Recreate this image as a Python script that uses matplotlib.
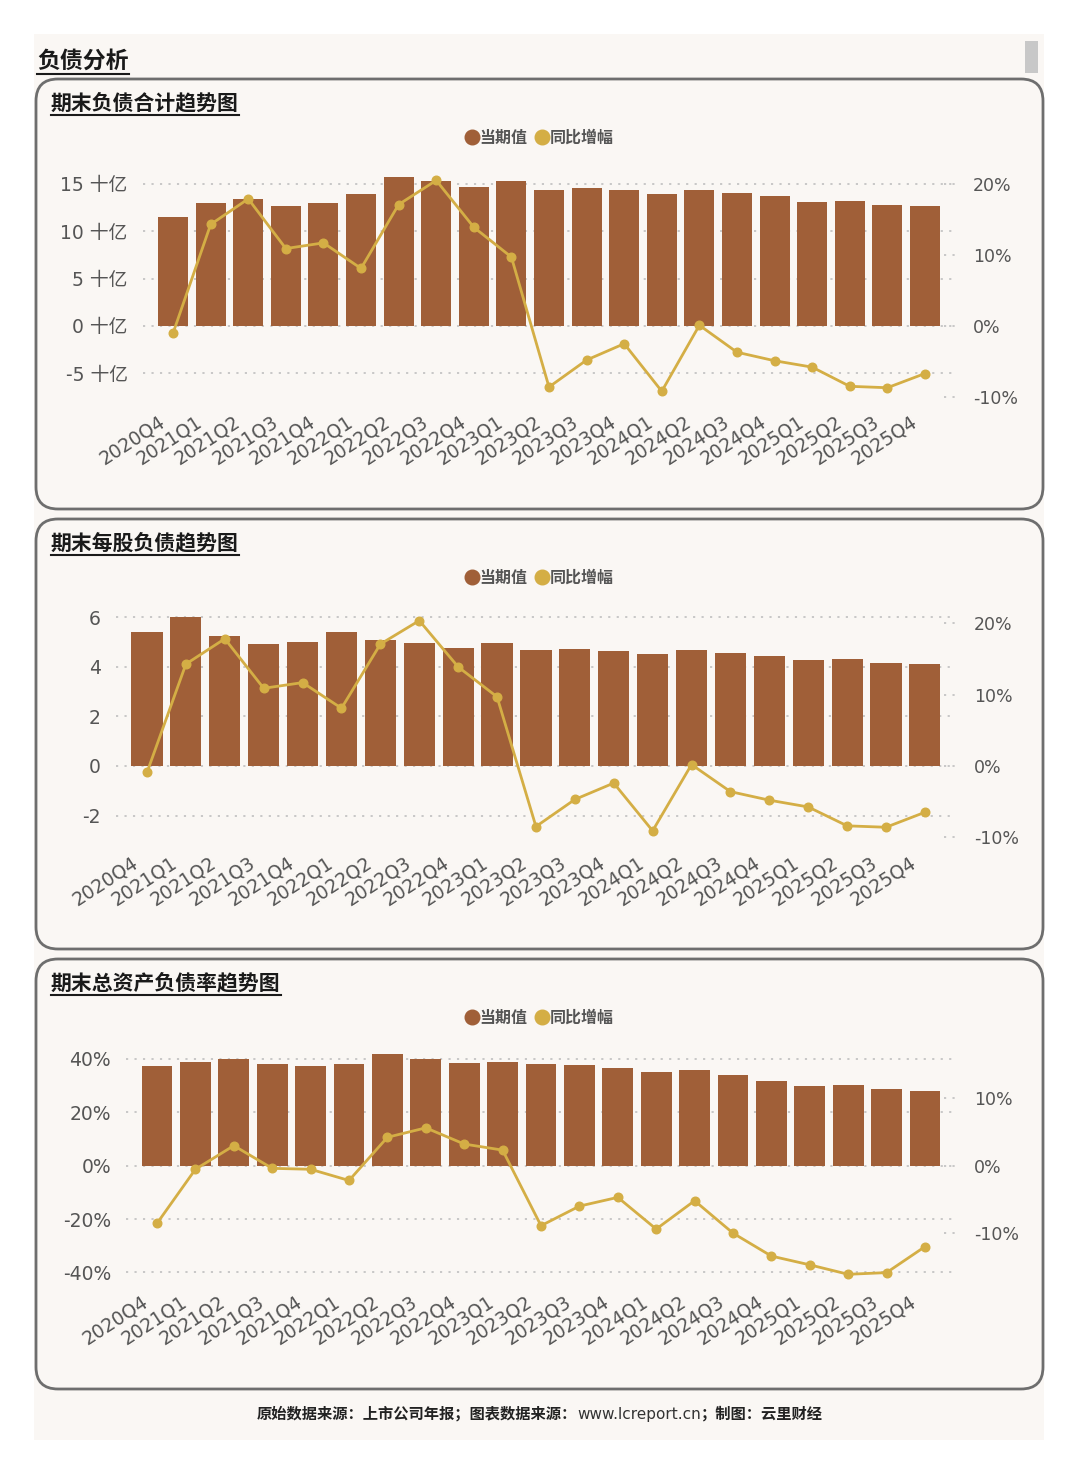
import matplotlib
matplotlib.use('Agg')
import matplotlib.pyplot as plt
from matplotlib.patches import FancyBboxPatch, Rectangle
from matplotlib.lines import Line2D
from matplotlib.transforms import IdentityTransform

W, H = 1080, 1476

quarters = ['2020Q4', '2021Q1', '2021Q2', '2021Q3', '2021Q4', '2022Q1', '2022Q2',
            '2022Q3', '2022Q4', '2023Q1', '2023Q2', '2023Q3', '2023Q4', '2024Q1',
            '2024Q2', '2024Q3', '2024Q4', '2025Q1', '2025Q2', '2025Q3', '2025Q4']

# 期末负债合计 (十亿) and YoY (%)
liab_total = [11.54, 12.95, 13.45, 12.71, 12.95, 13.98, 15.74, 15.28, 14.72, 15.28, 14.40,
              14.54, 14.33, 13.91, 14.40, 14.05, 13.70, 13.06, 13.24, 12.81, 12.71]
liab_total_yoy = [-1.0, 14.3, 17.9, 10.9, 11.7, 8.1, 17.1, 20.5, 13.9, 9.7, -8.6,
                  -4.8, -2.5, -9.2, 0.1, -3.7, -4.9, -5.8, -8.5, -8.7, -6.7]
# 期末每股负债 and YoY (%)
liab_per_share = [5.39, 6.01, 5.23, 4.92, 5.00, 5.42, 5.09, 4.95, 4.75, 4.95, 4.67,
                  4.72, 4.64, 4.51, 4.67, 4.56, 4.44, 4.28, 4.31, 4.17, 4.13]
liab_per_share_yoy = [-0.9, 14.3, 17.85, 10.9, 11.7, 8.1, 17.1, 20.4, 13.9, 9.7, -8.5,
                      -4.7, -2.4, -9.1, 0.2, -3.6, -4.8, -5.75, -8.4, -8.6, -6.5]
# 期末总资产负债率 (%) and YoY (%)
debt_ratio = [37.5, 38.9, 40.1, 38.1, 37.2, 38.1, 41.8, 40.1, 38.6, 38.9, 38.1,
              37.9, 36.7, 35.2, 36.0, 33.9, 31.7, 30.0, 30.2, 28.7, 28.1]
debt_ratio_yoy = [-8.55, -0.54, 2.96, -0.40, -0.54, -2.2, 4.2, 5.6, 3.2, 2.3, -8.9,
                  -6.0, -4.7, -9.4, -5.2, -10.0, -13.4, -14.7, -16.1, -15.85, -12.0]

section_title = '负债分析'
panel_titles = ['期末负债合计趋势图', '期末每股负债趋势图', '期末总资产负债率趋势图']
legend_labels = ['当期值', '同比增幅']
left_ticks = [[-5, 0, 5, 10, 15], [-2, 0, 2, 4, 6], [-40, -20, 0, 20, 40]]
left_fmt = ['{} 十亿', '{}', '{}%']
right_ticks = [[-10, 0, 10, 20], [-10, 0, 10, 20], [-10, 0, 10]]
footer_parts = ['原始数据来源：上市公司年报；图表数据来源：', 'www.lcreport.cn', '；制图：云里财经']

BAR = '#A05F38'
LINE = '#D4AE45'
BG = '#FAF7F4'
BORDER = '#6E6E6E'
TXT = '#555555'
GRID = '#C4C4C4'
CJK = ['Noto Sans CJK SC', 'DejaVu Sans']
MIX = ['DejaVu Sans', 'Noto Sans CJK SC']

plt.rcParams['font.family'] = MIX

fig = plt.figure(figsize=(W / 100, H / 100), dpi=100)
fig.patch.set_facecolor('white')


def rect_px(x0, y0, x1, y1):
    return [x0 / W, 1 - y1 / H, (x1 - x0) / W, (y1 - y0) / H]


# background
fig.add_artist(Rectangle((34, H - 1440), 1010, 1406, transform=IdentityTransform(),
                         facecolor=BG, edgecolor='none', zorder=0))
# scrollbar-like block
fig.add_artist(Rectangle((1025, H - 73), 13, 32, transform=IdentityTransform(),
                         facecolor='#C8C8C8', edgecolor='none', zorder=1))

panel_boxes = [(36, 79, 1043, 509), (36, 519, 1043, 949), (36, 959, 1043, 1389)]
for (x0, y0, x1, y1) in panel_boxes:
    fig.add_artist(FancyBboxPatch((x0, H - y1), x1 - x0, y1 - y0,
                                  boxstyle='round,pad=0,rounding_size=22',
                                  transform=IdentityTransform(), facecolor=BG,
                                  edgecolor=BORDER, linewidth=2, zorder=1))

titles = []
t = fig.text(37 / W, 1 - 61 / H, section_title, fontsize=16.5, fontweight='bold',
             family=CJK, color='#1a1a1a', va='center', ha='left', zorder=3)
titles.append(t)
for i, (x0, y0, x1, y1) in enumerate(panel_boxes):
    t = fig.text(51 / W, 1 - (y0 + 24) / H, panel_titles[i], fontsize=15, fontweight='bold',
                 family=CJK, color='#1a1a1a', va='center', ha='left', zorder=3)
    titles.append(t)

axes_px = [(143, 174.5, 955, 399.8), (115.9, 612.4, 956, 840.3), (126.3, 1050.9, 955.7, 1279.7)]
ylims = [(-7.8, 16), (-3.0, 6.2), (-42.7, 43)]
ylims2 = [(-10.4, 21.33), (-10.43, 21.55), (-16.9, 17.0)]
bars_data = [liab_total, liab_per_share, debt_ratio]
line_data = [liab_total_yoy, liab_per_share_yoy, debt_ratio_yoy]
legend_y = [138, 578, 1018]
label_offset = 0.4  # category-label anchor offset (in category units)

x = list(range(len(quarters)))
for i in range(3):
    ax = fig.add_axes(rect_px(*axes_px[i]))
    ax.set_zorder(5)
    ax.set_facecolor('none')
    ax.bar(x, bars_data[i], width=0.8, color=BAR, zorder=2)
    ax.set_xlim(-0.8, len(quarters) - 0.2)
    ax.set_ylim(*ylims[i])
    ax.set_yticks(left_ticks[i])
    ax.set_yticklabels([left_fmt[i].format(v) for v in left_ticks[i]])
    ax.set_xticks([xi - label_offset for xi in x])
    ax.set_xticklabels(quarters, rotation=33, ha='right', rotation_mode='anchor')
    ax.tick_params(axis='y', length=0, pad=11, labelsize=13.5, labelcolor=TXT)
    ax.tick_params(axis='x', length=0, pad=9, labelsize=13.5, labelcolor=TXT)
    for s in ax.spines.values():
        s.set_visible(False)
    ax.set_axisbelow(True)
    ax.yaxis.grid(True, color=GRID, linestyle=(0, (1.2, 3.5)), linewidth=1.3)

    ax2 = ax.twinx()
    ax2.set_zorder(6)
    ax2.patch.set_visible(False)
    ax2.set_ylim(*ylims2[i])
    ax2.plot(x, line_data[i], color=LINE, linewidth=2, marker='o', markersize=6.2, zorder=3)
    ax2.set_yticks(right_ticks[i])
    ax2.set_yticklabels(['{}%'.format(v) for v in right_ticks[i]])
    ax2.tick_params(axis='y', length=0, pad=13, labelsize=12.5, labelcolor=TXT)
    for s in ax2.spines.values():
        s.set_visible(False)
    for v in right_ticks[i]:
        ax2.axhline(v, xmin=0.986, xmax=1.0, color=GRID, linestyle=(0, (1.2, 3.5)), linewidth=1.3)

    handles = [Line2D([], [], linestyle='none', marker='o', markersize=10.5, color=BAR),
               Line2D([], [], linestyle='none', marker='o', markersize=10.5, color=LINE)]
    leg = fig.legend(handles, legend_labels, loc='center', bbox_to_anchor=(539 / W, 1 - legend_y[i] / H),
                     ncol=2, frameon=False, handletextpad=0.0, columnspacing=0.4, handlelength=1.0,
                     prop={'family': CJK, 'weight': 'bold', 'size': 11.5}, labelcolor=TXT)
    leg.set_zorder(7)

# footer
fps = [fig.text(0, 1 - 1414 / H, footer_parts[0], fontsize=11, fontweight='bold', family=CJK,
                color='#222222', va='center', ha='left', zorder=3),
       fig.text(0, 1 - 1414 / H, footer_parts[1], fontsize=11, family=['DejaVu Sans'],
                color='#333333', va='center', ha='left', zorder=3),
       fig.text(0, 1 - 1414 / H, footer_parts[2], fontsize=11, fontweight='bold', family=CJK,
                color='#222222', va='center', ha='left', zorder=3)]

fig.canvas.draw()
r = fig.canvas.get_renderer()
widths = [f.get_window_extent(r).width for f in fps]
xs = 540 - sum(widths) / 2
for f, w in zip(fps, widths):
    f.set_x(xs / W)
    xs += w

# underlines
for t in titles:
    bb = t.get_window_extent(r)
    fig.add_artist(Line2D([bb.x0, bb.x1], [bb.y0 - 1, bb.y0 - 1], transform=IdentityTransform(),
                          color='#1a1a1a', linewidth=1.5, zorder=3))

fig.savefig('out.png', dpi=100, facecolor='white')
